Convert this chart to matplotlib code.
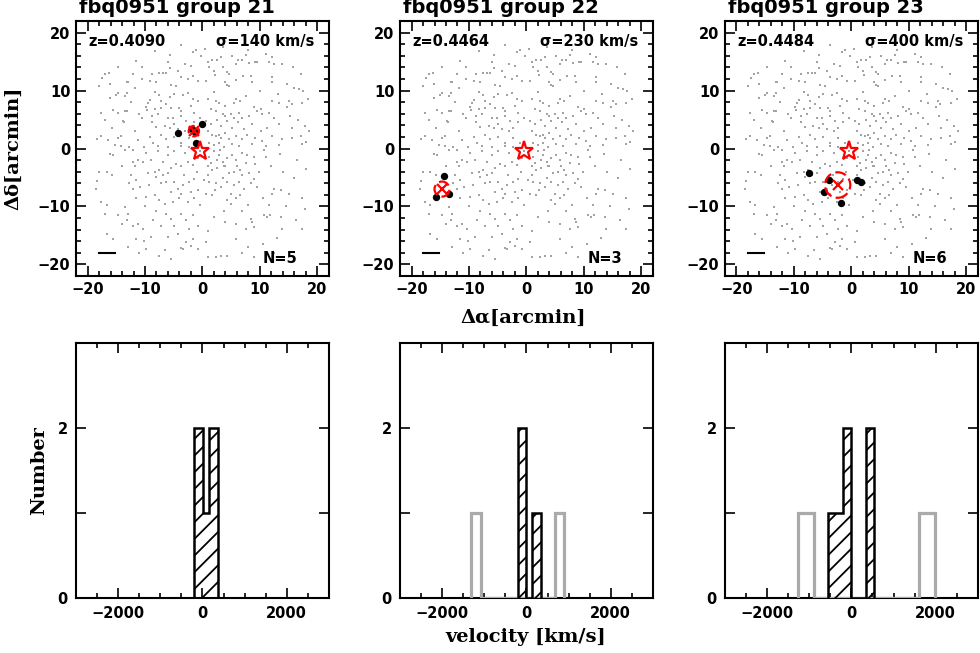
import matplotlib
matplotlib.use("Agg")
import matplotlib.pyplot as plt
from matplotlib.patches import Circle
from matplotlib.ticker import MultipleLocator, FixedLocator, FixedFormatter

plt.rcParams['font.family'] = ['DejaVu Sans']
plt.rcParams['font.weight'] = 'bold'
plt.rcParams['hatch.linewidth'] = 1.3
plt.rcParams['axes.linewidth'] = 1.5

# ---------------- data ----------------
group_ids = [21, 22, 23]
field_name = "fbq0951"
redshifts = ["0.4090", "0.4464", "0.4484"]
sigmas = [140, 230, 400]
n_members = [5, 3, 6]

# background galaxies (arcmin offsets), same field in every panel, by quadrant
field_ul = [(-3.8,17.9),(-8.3,16.8),(-5.6,16.2),(-1.6,16.6),(-1.2,17.0),(-11.5,15.1),(-14.7,14.1),(-3.1,14.5),
            (-2.0,14.3),(-17.0,12.9),(-16.3,13.0),(-17.5,12.2),(-12.1,12.9),(-8.8,12.9),(-7.6,13.0),(-6.9,13.0),
            (-6.3,13.0),(-5.7,13.9),(-4.3,13.4),(-3.7,12.3),(-2.5,12.0),(-1.7,12.6),(-13.2,11.5),(-12.9,11.4),
            (-10.6,12.0),(-9.2,11.6),(-8.0,11.4),(-18.0,10.8),(-16.1,11.2),(-11.8,10.5),(-5.4,11.0),(-4.6,10.8),
            (-0.8,11.7),(-14.7,9.5),(-15.1,9.3),(-13.2,9.6),(-13.5,9.1),(-8.3,9.7),(-7.5,9.3),(-9.2,8.3),
            (-9.5,7.8),(-5.7,8.9),(-4.9,9.4),(-3.4,9.3),(-2.5,9.5),(-1.7,8.5),(-0.8,8.2),(-7.2,8.2),
            (-16.1,8.8),(-15.5,6.6),(-14.7,6.2),(-17.6,6.2),(-17.0,5.0),(-13.5,6.5),(-13.2,6.4),(-9.8,7.1),
            (-9.6,6.6),(-8.3,6.8),(-7.2,7.0),(-6.3,7.6),(-5.4,7.0),(-4.0,7.0),(-3.7,6.5),(-2.0,7.4),
            (-1.4,6.2),(-13.8,4.7),(-13.6,4.5),(-10.6,5.3),(-7.7,5.9),(-8.8,5.6),(-6.0,5.3),(-5.1,5.3),
            (-4.9,4.2),(-3.7,5.6),(-2.8,4.7),(-1.4,4.5),(-0.5,5.3),(-15.8,3.6),(-11.8,3.0),(-8.8,4.5),
            (-8.0,3.7),(-6.6,3.9),(-5.7,3.6),(-4.3,3.3),(-3.1,3.0),(-2.3,3.6),(-18.4,1.7),(-17.6,2.1),
            (-16.4,1.4),(-14.7,1.9),(-14.1,2.1),(-11.2,1.4),(-9.2,2.0),(-8.6,1.0),(-7.2,2.4),(-6.3,1.6),
            (-4.9,2.0),(-3.7,1.0),(-2.3,1.9),(-1.1,1.0),(-14.1,0.4),(-15.3,0.6),(-12.7,0.2),(-10.1,0.2),
            (-7.7,0.4),(-6.0,0.2),(-3.7,0.4),(-2.3,0.2),(-10.5,14.0),(-6.0,15.0),(-12.5,8.0),(-11.0,6.0)]
field_ur = [(1.0,14.9),(1.7,15.2),(2.6,15.3),(3.2,15.8),(5.2,15.9),(5.8,14.6),(6.2,15.3),(7.5,16.2),
            (6.9,15.3),(8.1,14.7),(9.1,14.9),(9.5,14.9),(12.1,15.8),(11.6,14.9),(12.4,14.5),(13.9,14.6),
            (1.2,14.0),(2.0,13.4),(3.5,14.1),(4.3,13.2),(4.6,12.9),(2.2,12.7),(0.6,11.7),(3.9,11.4),
            (4.2,11.0),(4.6,10.8),(5.8,11.8),(8.7,11.4),(8.4,12.6),(12.1,11.4),(12.1,12.3),(14.7,11.1),
            (15.9,10.5),(16.8,10.3),(13.2,9.4),(2.0,9.7),(0.9,8.5),(2.3,8.2),(2.9,7.9),(3.9,7.4),
            (5.8,8.5),(5.5,7.9),(6.6,8.2),(7.5,9.1),(9.0,7.1),(9.5,6.5),(10.1,6.8),(12.1,8.2),
            (13.3,7.9),(15.1,8.2),(15.5,7.6),(14.7,7.2),(17.3,7.9),(1.4,6.8),(2.3,6.5),(3.5,5.9),
            (4.0,5.6),(4.9,5.9),(5.5,5.3),(6.4,6.2),(6.9,5.3),(8.1,5.6),(10.4,5.9),(11.6,6.2),
            (12.4,5.3),(15.3,5.6),(0.6,4.7),(1.4,4.2),(2.6,4.9),(3.2,3.9),(4.3,4.7),(5.2,3.6),
            (6.1,4.5),(7.2,3.3),(8.7,4.2),(10.1,3.0),(11.3,3.6),(13.3,4.2),(15.6,3.6),(17.9,3.9),
            (0.9,3.0),(1.7,2.4),(2.3,2.1),(2.8,2.4),(3.2,1.9),(4.0,2.7),(4.6,1.6),(5.8,2.1),
            (6.9,1.6),(7.8,2.4),(9.2,1.9),(10.4,1.3),(12.1,2.1),(13.9,1.6),(15.6,1.9),(17.1,2.1),
            (1.2,1.0),(2.0,0.6),(2.9,1.0),(3.8,0.2),(5.2,0.7),(6.4,0.4),(8.7,0.7),(11.0,0.4),
            (13.3,0.6),(17.3,0.7),(0.5,17.2),(3.5,17.5),(-0.3,16.0),(8.0,17.0),(11.0,16.3),(15.8,14.0),
            (17.2,12.8),(17.5,10.0),(18.4,8.5),(16.7,5.0),(18.6,3.0),(18.0,1.2),(10.0,10.0),(7.0,12.5)]
field_ll = [(-16.1,-1.0),(-15.5,-1.1),(-13.5,-0.2),(-12.1,-0.2),(-9.8,-0.8),(-7.7,-0.5),(-6.0,-1.1),(-4.9,-0.4),
            (-3.1,-0.8),(-18.0,-4.1),(-16.7,-4.0),(-15.8,-4.5),(-18.4,-5.6),(-12.1,-2.3),(-11.2,-2.0),(-10.3,-2.3),
            (-11.8,-3.1),(-12.4,-4.6),(-11.5,-5.5),(-12.7,-6.0),(-12.1,-6.9),(-10.9,-6.6),(-9.5,-4.3),(-8.3,-4.0),
            (-7.5,-3.7),(-8.0,-4.9),(-6.9,-4.6),(-6.0,-4.3),(-5.4,-3.4),(-4.6,-2.6),(-3.7,-3.1),(-2.5,-2.3),
            (-1.7,-2.9),(-0.8,-1.7),(-7.2,-6.0),(-6.3,-5.7),(-4.9,-5.7),(-4.3,-6.9),(-3.4,-6.3),(-2.3,-5.7),
            (-1.4,-5.2),(-5.4,-7.5),(-3.7,-7.8),(-2.0,-7.5),(-0.8,-7.2),(-11.5,-8.6),(-9.8,-8.4),(-8.3,-8.1),
            (-7.5,-8.9),(-6.6,-9.5),(-5.1,-9.2),(-4.0,-8.6),(-2.5,-9.2),(-1.4,-8.6),(-0.5,-9.8),(-16.7,-9.8),
            (-12.9,-11.3),(-13.2,-12.4),(-12.1,-13.3),(-11.2,-13.0),(-10.3,-13.9),(-8.6,-12.4),(-7.2,-13.3),(-8.0,-10.7),
            (-6.3,-11.3),(-5.4,-12.1),(-4.9,-13.3),(-3.7,-11.3),(-2.8,-12.4),(-1.7,-11.5),(-0.8,-13.3),(-2.3,-13.9),
            (-16.7,-14.7),(-15.5,-15.6),(-10.1,-15.9),(-11.5,-15.6),(-8.9,-15.3),(-6.0,-15.3),(-4.3,-14.7),(-2.8,-16.2),
            (-1.7,-15.6),(-9.8,-17.3),(-7.5,-18.6),(-3.7,-17.1),(-3.4,-17.3),(-2.0,-16.8),(-0.8,-17.3),(-13.5,-10.1),
            (-14.7,-11.5),(-17.6,-9.3),(-17.0,-11.3),(-18.5,-7.0),(-14.0,-13.0),(-13.0,-17.0),(-11.0,-18.0),(-6.5,-17.5),
            (-5.5,-19.0),(-9.0,-2.0),(-10.0,-10.0),(-6.8,-2.3),(-3.2,-4.5),(-1.0,-4.0),(-9.3,-6.3),(-14.0,-3.0)]
field_lr = [(1.2,-1.4),(2.0,-0.5),(2.9,-1.1),(2.6,-2.0),(3.5,-2.3),(4.3,-1.7),(5.2,-1.1),(5.8,-2.0),
            (6.9,-0.8),(7.8,-1.1),(9.0,-1.4),(9.2,-2.6),(10.7,-0.2),(0.9,-3.1),(1.7,-3.7),(2.6,-3.4),
            (3.8,-3.1),(4.6,-4.3),(5.5,-4.0),(6.6,-3.7),(6.9,-4.6),(8.1,-4.3),(9.0,-5.2),(9.8,-4.0),
            (0.3,-5.5),(1.2,-5.8),(2.3,-6.0),(3.2,-6.6),(4.3,-5.8),(5.5,-6.3),(6.4,-5.8),(7.2,-6.9),
            (8.4,-6.0),(9.5,-6.6),(12.4,-6.9),(12.1,-7.8),(13.6,-7.2),(15.0,-7.8),(17.3,-8.6),(0.6,-7.8),
            (1.7,-8.1),(4.3,-8.9),(4.9,-7.8),(5.8,-8.6),(6.6,-8.1),(6.9,-10.7),(3.8,-10.7),(2.0,-11.8),
            (4.0,-12.7),(5.8,-13.0),(8.4,-12.1),(8.7,-12.7),(9.0,-13.6),(10.7,-11.5),(11.3,-11.8),(11.8,-11.5),
            (13.6,-11.8),(13.9,-13.9),(16.2,-12.4),(17.3,-13.9),(0.9,-14.2),(5.8,-15.6),(0.6,-16.2),(4.3,-18.5),
            (2.3,-18.8),(3.2,-18.5),(0.9,-18.8),(9.0,-18.8),(6.9,-18.0),(7.5,-13.9),(0.5,-0.5),(1.5,-2.5),
            (3.0,-0.3),(4.0,-3.0),(1.0,-4.5),(3.5,-5.0),(6.0,-3.0),(7.5,-2.5),(2.2,-7.2),(5.0,-9.5),
            (8.0,-9.8),(10.5,-8.5),(11.5,-9.8),(14.5,-10.0),(16.0,-5.0),(14.0,-4.0),(12.0,-3.0),(11.0,-1.5),
            (13.5,-1.0),(16.5,-2.0),(18.0,-3.5),(17.8,-10.5),(13.0,-15.5),(10.5,-16.5),(8.0,-17.0),(12.5,-18.0),
            (-0.4,-0.4)]

# QSO position (red star)
qso_x, qso_y = -0.4, -0.4

# group members (black dots)
members_x = [[-4.3, -0.05, -1.2, -1.8, -1.3],
             [-14.3, -15.8, -13.4],
             [-7.3, -3.9, -4.7, -1.9, 1.0, 1.7]]
members_y = [[2.7, 4.3, 0.9, 3.3, 2.8],
             [-4.7, -8.3, -7.9],
             [-4.2, -5.5, -7.5, -9.4, -5.4, -5.8]]
# group centre and radius (arcmin)
centre_x = [-1.5, -14.7, -2.4]
centre_y = [3.0, -7.0, -6.3]
radius = [0.9, 1.3, 2.2]

# scale bar (arcmin)
scalebar_x = [-18.0, -15.2]
scalebar_y = -18.1

# velocity histograms (km/s): members (hatched) and non-members (grey)
mem_edges = [[-206, 7, 149, 362],
             [-200, -17, 142, 338],
             [-553, -199, 0, 354, 535]]
mem_counts = [[2, 1, 2],
              [2, 0, 1],
              [1, 2, 0, 2]]
non_edges = [None,
             [-1316, -1090, 677, 897],
             [-1266, -881, 1598, 1990]]
non_counts = [None,
              [1, 0, 1],
              [1, 0, 1]]

# ---------------- figure ----------------
fig = plt.figure(figsize=(9.8, 6.53), dpi=100)
lefts = [0.0776, 0.4082, 0.7398]
W, H = 0.258, 0.3905
top_b, bot_b = 0.5773, 0.0842

grey = '#a3a3a3'
fx = [p[0] for q in (field_ul, field_ur, field_ll, field_lr) for p in q]
fy = [p[1] for q in (field_ul, field_ur, field_ll, field_lr) for p in q]

def style_ticks(ax, pad):
    ax.tick_params(which='both', direction='in', top=True, right=True, width=1.2,
                   labelsize=10.5, pad=pad)
    ax.tick_params(which='major', length=7.5)
    ax.tick_params(which='minor', length=3.8)
    for lab in ax.get_xticklabels() + ax.get_yticklabels():
        lab.set_fontweight('bold')

for i in range(3):
    ax = fig.add_axes([lefts[i], top_b, W, H])
    ax.scatter(fx, fy, s=3.0, marker='s', c=grey, linewidths=0, zorder=1)
    ax.scatter(members_x[i], members_y[i], s=28, c='black', linewidths=0, zorder=3)
    ax.plot([qso_x], [qso_y], marker='*', ms=14, mfc='none', mec='red', mew=1.6, zorder=4, ls='none')
    ax.add_patch(Circle((centre_x[i], centre_y[i]), radius[i], fill=False, ec='red', lw=1.6,
                        ls=(0, (5, 2)), zorder=5))
    ax.plot([centre_x[i]], [centre_y[i]], marker='x', ms=7, mew=1.6, color='red', zorder=5, ls='none')
    ax.plot(scalebar_x, [scalebar_y, scalebar_y], color='black', lw=1.5, zorder=3)
    ax.set_xlim(-22, 22)
    ax.set_ylim(-22, 22)
    ax.xaxis.set_major_locator(MultipleLocator(10))
    ax.xaxis.set_minor_locator(MultipleLocator(2))
    ax.yaxis.set_major_locator(MultipleLocator(10))
    ax.yaxis.set_minor_locator(MultipleLocator(2))
    style_ticks(ax, 4)
    ax.text(-19.8, 18.4, f"z={redshifts[i]}", ha='left', va='center', fontsize=10.5, fontweight='bold')
    ax.text(19.4, 18.4, f"σ={sigmas[i]} km/s", ha='right', va='center', fontsize=10.5, fontweight='bold')
    ax.text(16.6, -18.9, f"N={n_members[i]}", ha='right', va='center', fontsize=10.5, fontweight='bold')
    ax.text(0.01, 1.03, f"{field_name} group {group_ids[i]}", transform=ax.transAxes,
            ha='left', va='baseline', fontsize=14, fontweight='bold')

    hx = fig.add_axes([lefts[i], bot_b, W, H])
    if non_edges[i] is not None:
        hx.stairs(non_counts[i], non_edges[i], baseline=0, fill=False, color='#aaaaaa', lw=2.3, zorder=3)
    hx.stairs(mem_counts[i], mem_edges[i], baseline=0, fill=True, facecolor='none',
              edgecolor='black', hatch='//', lw=1.8, zorder=4)
    hx.set_xlim(-3000, 3000)
    hx.set_ylim(0, 3)
    hx.xaxis.set_major_locator(MultipleLocator(2000))
    hx.xaxis.set_minor_locator(MultipleLocator(500))
    hx.yaxis.set_major_locator(FixedLocator([0, 1, 2, 3]))
    hx.yaxis.set_major_formatter(FixedFormatter(['0', '', '2', '']))
    style_ticks(hx, 6)

serif = 'DejaVu Serif'
fig.text(0.014, top_b + H / 2, 'Δδ[arcmin]', rotation=90, ha='center', va='center',
         family=serif, fontweight='bold', fontsize=14)
fig.text(523 / 980, 1 - 318 / 653, 'Δα[arcmin]', ha='center', va='center',
         family=serif, fontweight='bold', fontsize=14)
fig.text(0.04, bot_b + H / 2, 'Number', rotation=90, ha='center', va='center',
         family=serif, fontweight='bold', fontsize=14)
fig.text(526 / 980, 1 - 637 / 653, 'velocity [km/s]', ha='center', va='center',
         family=serif, fontweight='bold', fontsize=14)

fig.savefig('out.png', dpi=100)
